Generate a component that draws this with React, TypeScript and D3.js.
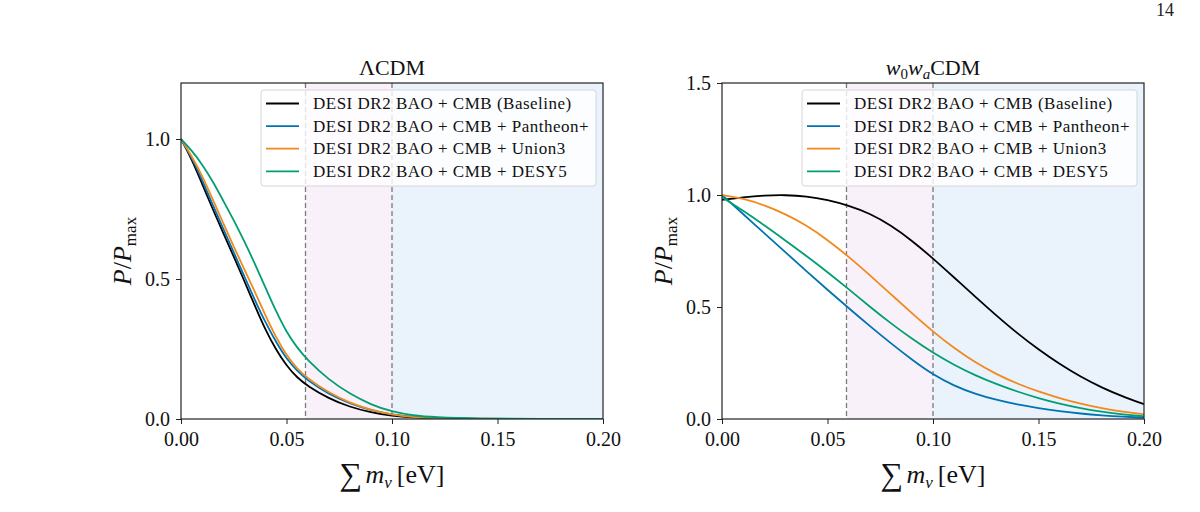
import React, { useEffect, useRef } from 'react';
import * as d3 from 'd3';

// legend labels and colours (seaborn colorblind-ish)
const seriesNames = [
  'DESI DR2 BAO + CMB (Baseline)',
  'DESI DR2 BAO + CMB + Pantheon+',
  'DESI DR2 BAO + CMB + Union3',
  'DESI DR2 BAO + CMB + DESY5',
];
const seriesColors = ['#000000', '#0173b2', '#f08a1c', '#029e73'];

// ΛCDM panel
const lcdmMass = [0, 0.005, 0.01, 0.015, 0.02, 0.025, 0.03, 0.035, 0.04, 0.045, 0.05, 0.055, 0.06, 0.07, 0.08, 0.09, 0.1, 0.11, 0.12, 0.14, 0.17, 0.2];
const lcdmBaseline = [1.0, 0.93, 0.84, 0.75, 0.665, 0.58, 0.493, 0.405, 0.318, 0.248, 0.19, 0.148, 0.118, 0.073, 0.043, 0.023, 0.011, 0.005, 0.002, 0.0, 0, 0];
const lcdmPantheon = [1.0, 0.935, 0.855, 0.765, 0.68, 0.595, 0.51, 0.425, 0.345, 0.275, 0.215, 0.172, 0.138, 0.088, 0.055, 0.031, 0.015, 0.007, 0.003, 0.0005, 0, 0];
const lcdmUnion3 = [1.0, 0.94, 0.87, 0.785, 0.7, 0.615, 0.535, 0.455, 0.37, 0.292, 0.228, 0.18, 0.145, 0.094, 0.058, 0.032, 0.015, 0.007, 0.003, 0.0005, 0, 0];
const lcdmDesy5 = [1.0, 0.96, 0.91, 0.85, 0.78, 0.71, 0.635, 0.555, 0.47, 0.385, 0.31, 0.255, 0.21, 0.14, 0.09, 0.051, 0.026, 0.012, 0.006, 0.001, 0, 0];

// w0waCDM panel
const w0waMass = [0, 0.01, 0.02, 0.03, 0.04, 0.05, 0.06, 0.07, 0.08, 0.09, 0.1, 0.11, 0.12, 0.13, 0.14, 0.15, 0.16, 0.17, 0.18, 0.19, 0.2];
const w0waBaseline = [0.978, 0.99, 0.998, 1.0, 0.995, 0.978, 0.953, 0.918, 0.865, 0.797, 0.717, 0.632, 0.546, 0.462, 0.382, 0.31, 0.245, 0.188, 0.14, 0.1, 0.066];
const w0waPantheon = [1.0, 0.915, 0.83, 0.745, 0.66, 0.577, 0.495, 0.415, 0.338, 0.265, 0.198, 0.148, 0.112, 0.085, 0.064, 0.048, 0.035, 0.024, 0.016, 0.01, 0.006];
const w0waUnion3 = [1.0, 0.985, 0.955, 0.915, 0.865, 0.8, 0.725, 0.643, 0.558, 0.472, 0.39, 0.316, 0.252, 0.2, 0.157, 0.122, 0.093, 0.068, 0.048, 0.032, 0.021];
const w0waDesy5 = [0.99, 0.93, 0.865, 0.797, 0.728, 0.656, 0.58, 0.502, 0.427, 0.358, 0.295, 0.241, 0.195, 0.156, 0.122, 0.093, 0.068, 0.048, 0.032, 0.02, 0.012];

const xTicks = [0, 0.05, 0.1, 0.15, 0.2];
const bounds = [0.059, 0.1]; // normal / inverted ordering lines

const FONT = '"Liberation Serif", "DejaVu Serif", serif';

type PanelProps = {
  left: number;
  mass: number[];
  series: number[][];
  yMax: number;
  yTicks: number[];
  title: 'lcdm' | 'w0wa';
};

const Panel = ({ left, mass, series, yMax, yTicks, title }: PanelProps) => {
  const ref = useRef<SVGGElement>(null);

  useEffect(() => {
    const g = d3.select(ref.current);
    g.selectAll('*').remove();

    const width = 422;
    const top = 83;
    const bottom = 419;

    const x = d3.scaleLinear().domain([0, 0.2]).range([left, left + width]);
    const y = d3.scaleLinear().domain([0, yMax]).range([bottom, top]);

    const clipId = `clip-${title}`;
    g.append('clipPath').attr('id', clipId)
      .append('rect').attr('x', left).attr('y', top).attr('width', width).attr('height', bottom - top);

    // shaded mass ranges
    g.append('rect')
      .attr('x', x(bounds[0])).attr('y', top)
      .attr('width', x(bounds[1]) - x(bounds[0])).attr('height', bottom - top)
      .attr('fill', '#f8f1f9');
    g.append('rect')
      .attr('x', x(bounds[1])).attr('y', top)
      .attr('width', x(0.2) - x(bounds[1])).attr('height', bottom - top)
      .attr('fill', '#eaf2fc');

    bounds.forEach((b) => {
      g.append('line')
        .attr('x1', x(b)).attr('x2', x(b)).attr('y1', top).attr('y2', bottom)
        .attr('stroke', '#7a7a7a').attr('stroke-width', 1.3).attr('stroke-dasharray', '5,3');
    });

    const line = d3.line<number>()
      .x((_, i) => x(mass[i]))
      .y((d) => y(d))
      .curve(d3.curveBasis);

    series.forEach((s, i) => {
      g.append('path')
        .attr('clip-path', `url(#${clipId})`)
        .attr('d', line(s))
        .attr('fill', 'none')
        .attr('stroke', seriesColors[i])
        .attr('stroke-width', 1.8);
    });

    // axes
    const xAxis = g.append('g')
      .attr('transform', `translate(0,${bottom})`)
      .call(d3.axisBottom(x).tickValues(xTicks).tickFormat(d3.format('.2f')).tickSize(5).tickPadding(8).tickSizeOuter(0));
    const yAxis = g.append('g')
      .attr('transform', `translate(${left},0)`)
      .call(d3.axisLeft(y).tickValues(yTicks).tickFormat(d3.format('.1f')).tickSize(5).tickPadding(6).tickSizeOuter(0));
    [xAxis, yAxis].forEach((a) => {
      a.select('.domain').remove();
      a.selectAll('text').attr('font-family', FONT).attr('font-size', 20).attr('fill', '#111');
      a.selectAll('line').attr('stroke', '#222').attr('stroke-width', 1);
    });

    g.append('rect')
      .attr('x', left).attr('y', top).attr('width', width).attr('height', bottom - top)
      .attr('fill', 'none').attr('stroke', '#222').attr('stroke-width', 1.2);

    // title
    const cx = left + width / 2;
    const t = g.append('text')
      .attr('x', cx).attr('y', 75).attr('text-anchor', 'middle')
      .attr('font-family', FONT).attr('font-size', 22).attr('fill', '#111');
    if (title === 'lcdm') {
      t.text('ΛCDM');
    } else {
      t.append('tspan').attr('font-style', 'italic').text('w');
      t.append('tspan').attr('font-size', 15).attr('dy', 4).text('0');
      t.append('tspan').attr('font-style', 'italic').attr('dy', -4).text('w');
      t.append('tspan').attr('font-style', 'italic').attr('font-size', 15).attr('dy', 4).text('a');
      t.append('tspan').attr('dy', -4).text('CDM');
    }

    // y label
    const yl = g.append('text')
      .attr('transform', `translate(${left - 50},${(top + bottom) / 2}) rotate(-90)`)
      .attr('text-anchor', 'middle')
      .attr('font-family', FONT).attr('font-size', 26).attr('fill', '#111');
    yl.append('tspan').attr('font-style', 'italic').text('P');
    yl.append('tspan').text('/');
    yl.append('tspan').attr('font-style', 'italic').text('P');
    yl.append('tspan').attr('font-size', 17).attr('dy', 5).text('max');

    // x label
    const xl = g.append('text')
      .attr('x', cx).attr('y', 483).attr('text-anchor', 'middle')
      .attr('font-family', FONT).attr('font-size', 26).attr('fill', '#111');
    xl.append('tspan').attr('font-size', 32).attr('dy', 2).text('∑');
    xl.append('tspan').attr('font-style', 'italic').attr('dy', -2).attr('dx', 3).text('m');
    xl.append('tspan').attr('font-style', 'italic').attr('font-size', 17).attr('dy', 5).text('ν');
    xl.append('tspan').attr('dy', -5).attr('dx', 5).text('[eV]');

    // legend
    const lx = left + 80;
    const ly = 90;
    const lg = g.append('g');
    lg.append('rect')
      .attr('x', lx).attr('y', ly).attr('width', 335).attr('height', 96).attr('rx', 3)
      .attr('fill', 'white').attr('fill-opacity', 0.8)
      .attr('stroke', '#d6d6d6').attr('stroke-width', 1);
    seriesNames.forEach((name, i) => {
      const ry = ly + 13.5 + i * 22.6;
      lg.append('line')
        .attr('x1', lx + 5).attr('x2', lx + 38).attr('y1', ry).attr('y2', ry)
        .attr('stroke', seriesColors[i]).attr('stroke-width', 1.8);
      lg.append('text')
        .attr('x', lx + 52).attr('y', ry + 5.5)
        .attr('font-family', FONT).attr('font-size', 17).attr('letter-spacing', 0.5).attr('fill', '#111')
        .text(name);
    });
  }, [left, mass, series, yMax, yTicks, title]);

  return <g ref={ref} />;
};

const App = () => (
  <svg width={1200} height={512} style={{ position: 'absolute', left: 0, top: 0, background: 'white' }}>
    <rect width={1200} height={512} fill="white" />
    <text x={1165} y={16} textAnchor="middle" fontFamily={FONT} fontSize={18} fill="#222">14</text>
    <Panel
      left={181}
      mass={lcdmMass}
      series={[lcdmBaseline, lcdmPantheon, lcdmUnion3, lcdmDesy5]}
      yMax={1.2}
      yTicks={[0, 0.5, 1.0]}
      title="lcdm"
    />
    <Panel
      left={722}
      mass={w0waMass}
      series={[w0waBaseline, w0waPantheon, w0waUnion3, w0waDesy5]}
      yMax={1.5}
      yTicks={[0, 0.5, 1.0, 1.5]}
      title="w0wa"
    />
  </svg>
);

export default App;
